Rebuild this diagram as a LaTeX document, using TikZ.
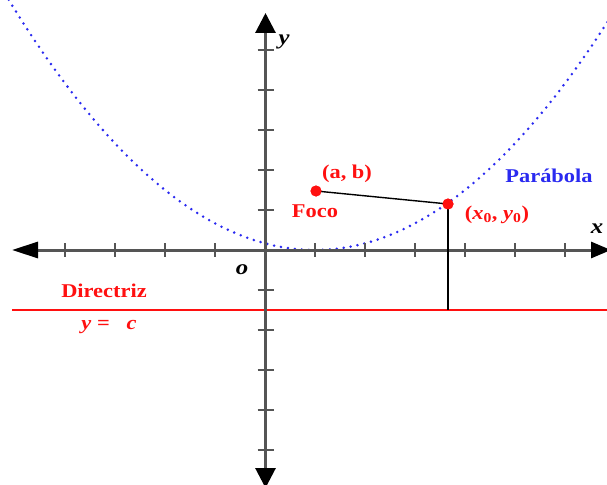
\documentclass[tikz,border=0pt]{standalone}
\usepackage{fontspec}
\setmainfont{Liberation Serif}
\usetikzlibrary{arrows.meta}
\definecolor{axisgray}{HTML}{555555}
\definecolor{lblred}{HTML}{FF1010}
\definecolor{parblue}{HTML}{2A2AF0}
\tikzset{
  axisline/.style={draw=axisgray, line width=3pt},
  tickmark/.style={draw=axisgray, line width=2.2pt},
  redlbl/.style={text=lblred, font=\bfseries\fontsize{19.5}{21}\selectfont, xscale=1.15, inner sep=0pt},
  bluelbl/.style={text=parblue, font=\bfseries\fontsize{19.5}{21}\selectfont, xscale=1.15, inner sep=0pt},
  blacklbl/.style={text=black, font=\bfseries\itshape\fontsize{21}{23}\selectfont, xscale=1.18, inner sep=0pt},
  ptdot/.style={circle, fill=lblred, minimum size=11pt, inner sep=0pt},
  segline/.style={draw=black, line width=1.4pt},
}
\begin{document}
\begin{tikzpicture}[x=1pt, y=-1pt]
\useasboundingbox (0,0) rectangle (607,484);
\clip (0,0) rectangle (607,484);
% parabola (dotted)
\draw[parblue, line width=2.8pt, line cap=round, dash pattern=on 0pt off 7pt]
  plot[domain=-5.2:7.2, samples=150] ({265+50*\x}, {250-40*(\x-1)*(\x-1)/6});
% directrix
\coordinate (dl) at (12,310);
\coordinate (dr) at (607,310);
\draw[lblred, line width=2pt] (dl) -- (dr);
% axes
\coordinate (xl) at (12,250);
\coordinate (xr) at (611,250);
\coordinate (yt) at (265.5,13);
\coordinate (yb) at (265.5,488);
\draw[axisline, {Triangle[length=26pt,width=16pt,color=black]}-{Triangle[length=20pt,width=16pt,color=black]}] (xl) -- (xr);
\draw[axisline, {Triangle[length=20pt,width=20pt,color=black]}-{Triangle[length=20pt,width=20pt,color=black]}] (yb) -- (yt);
% ticks
\foreach \k in {-4,-3,-2,-1,1,2,3,4,5,6} {
  \draw[tickmark] ({265+50*\k},243) -- ({265+50*\k},257);
}
\foreach \k in {-5,-4,-3,-2,-1,1,2,3,4,5} {
  \draw[tickmark] (257.5,{250-40*\k}) -- (273.5,{250-40*\k});
}
% points and segments
\node[ptdot] (focus) at (316,191) {};
\node[ptdot] (p0) at (448,204) {};
\coordinate (foot) at (448,310);
\draw[segline] (focus.center) -- (p0.center);
\draw[segline] (p0.center) -- (foot);
\node[ptdot] at (focus) {};
\node[ptdot] at (p0) {};
% labels
\node[blacklbl] (lblY) at (284,42) {y};
\node[blacklbl] (lblX) at (597,229) {x};
\node[blacklbl] (lblO) at (242,270) {o};
\node[redlbl] (lblAB) at (347,174) {(a, b)};
\node[redlbl] (lblFoco) at (315,211) {Foco};
\node[redlbl] (lblP0) at (497,215) {(\textit{x}\textsubscript{0}, \textit{y}\textsubscript{0})};
\node[bluelbl] (lblPar) at (549,176) {Parábola};
\node[redlbl] (lblDir) at (104,291) {Directriz};
\node[redlbl] (lblYc) at (109,327) {\textit{y} =\ \ \ \textit{c}};
\end{tikzpicture}
\end{document}
